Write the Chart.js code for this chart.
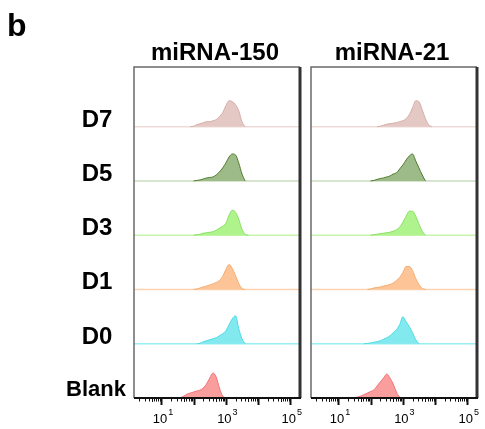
<!DOCTYPE html>
<html>
<head>
<meta charset="utf-8">
<script src="https://cdn.jsdelivr.net/npm/chart.js@4/dist/chart.umd.min.js"></script>
<style>
  html, body { margin: 0; padding: 0; background: #fff; }
  body { width: 485px; height: 429px; position: relative; overflow: hidden; }
  canvas { position: absolute; left: 0; top: 0; }
</style>
</head>
<body>
<canvas id="left" width="485" height="429"></canvas>
<canvas id="right" width="485" height="429"></canvas>
<script>
// Flow cytometry histograms, stacked per time point (bottom row first).
const rowNames = ['Blank', 'D0', 'D1', 'D3', 'D5', 'D7'];
const panelTitles = ['miRNA-150', 'miRNA-21'];

// log10 fluorescence bin centres shared by every histogram
const bins = [1.5, 1.6, 1.7, 1.8, 1.9, 2.0, 2.1, 2.2, 2.3, 2.4, 2.5, 2.6, 2.7,
              2.8, 2.9, 3.0, 3.1, 3.2, 3.3, 3.4, 3.5, 3.6, 3.7, 3.8, 3.9];

// x axis decades and the ones that carry a label
const xDecades = [0, 1, 2, 3, 4, 5];
const xLabelDecades = [1, 3, 5];

// miRNA-150 event counts per bin
const mir150_Blank = [0,0.5,2,4,5,6,7,8,10,14,20,25,21,10,2,0,0,0,0,0,0,0,0,0,0];
const mir150_D0    = [0,0,0,0,0,0,0,0.5,2,3,4,5,6,8,10,13,19,25,28,15,5,0,0,0,0];
const mir150_D1    = [0,0,0,0,0,0,0.5,1.5,2.5,3.5,4.5,5.5,7,9,13,20,25,21,14,6,1,0,0,0,0];
const mir150_D3    = [0,0,0,0,0,0,0.5,1,2,2.5,3,3.5,5,7,9,12,20,25,23,16,6,1,0,0,0];
const mir150_D5    = [0,0,0,0,0,0,0.5,1,2,3,3.5,4,6,9,13,18,24,27,26,18,7,0,0,0,0];
const mir150_D7    = [0,0,0,0,0,0.5,2,3,4,5,5,6,7,10,14,21,26,25,22,16,5,0,0,0,0];

// miRNA-21 event counts per bin
const mir21_Blank = [0.3,1,2,3.5,5,6.5,8,12,16,20,24,20,14,6,1,0,0,0,0,0,0,0,0,0,0];
const mir21_D0    = [0,0,0,0,0.3,0.8,1.5,2,3,4.5,6,8,11,14,19,27,22,17,11,4,0,0,0,0,0];
const mir21_D1    = [0,0,0,0,0,0.5,1.5,2,2.5,3.5,4,5,6.5,9,12,17,23,23,19,11,5,1,0,0,0];
const mir21_D3    = [0,0,0,0,0,0,0.5,1,1.5,2,2.5,3,4,5.5,8,13,19,24,24,19,11,4,0,0,0];
const mir21_D5    = [0,0,0,0,0,0,0.5,1.5,2.5,3,4,5,7,8,12,16,21,25,27,20,13,6,0,0,0];
const mir21_D7    = [0,0,0,0,0,0,0,0,0.5,1.5,2.5,3,3.5,4,5,6,8,12,19,26,25,17,8,2,0];

const mir150Rows = [mir150_Blank, mir150_D0, mir150_D1, mir150_D3, mir150_D5, mir150_D7];
const mir21Rows  = [mir21_Blank, mir21_D0, mir21_D1, mir21_D3, mir21_D5, mir21_D7];

// styling
const COUNTS_PER_ROW = 54.3;
const X_MIN_LOG = 0.15, X_MAX_LOG = 5.3;
const Y_MAX = 6.1;
const rowFill = ['#fa9d9d', '#82e9ef', '#fdc597', '#aff38c', '#9dbb88', '#e4c8c4'];
const rowLine = ['#f27575', '#49dbe3', '#f6ac6e', '#88e063', '#4f7b2e', '#d6aca6'];
const rowBase = ['#f5a0a0', '#98eef2', '#fbd3b3', '#c6f4ae', '#cadcc0', '#efdcd9'];
const FONT = '"Liberation Sans", Arial, Helvetica, sans-serif';

function buildDatasets(rows) {
  const ds = [];
  rows.forEach((counts, r) => {
    ds.push({
      data: [{ x: Math.pow(10, X_MIN_LOG), y: r }, { x: Math.pow(10, X_MAX_LOG), y: r }],
      borderColor: rowBase[r], borderWidth: 1.5, pointRadius: 0, fill: false, order: 2
    });
    const pts = [];
    counts.forEach((c, i) => {
      const near = c > 0 || (i > 0 && counts[i - 1] > 0) || (i < counts.length - 1 && counts[i + 1] > 0);
      if (near) pts.push({ x: Math.pow(10, bins[i]), y: r + c / COUNTS_PER_ROW });
    });
    ds.push({
      data: pts, borderColor: rowLine[r], backgroundColor: rowFill[r],
      borderWidth: 1, pointRadius: 0, fill: { value: r },
      cubicInterpolationMode: 'monotone', order: 1
    });
  });
  return ds;
}

const frame = {
  id: 'frame',
  afterDraw(chart, args, opts) {
    const ctx = chart.ctx, a = chart.chartArea;
    const xs = chart.scales.x, ys = chart.scales.y;
    ctx.save();
    // panel box
    ctx.strokeStyle = '#6a6a6a'; ctx.lineWidth = 1.5;
    ctx.beginPath();
    ctx.moveTo(a.left, a.bottom); ctx.lineTo(a.left, a.top); ctx.lineTo(a.right, a.top);
    ctx.stroke();
    ctx.strokeStyle = '#333'; ctx.lineWidth = 3;
    ctx.beginPath(); ctx.moveTo(a.right, a.top); ctx.lineTo(a.right, a.bottom); ctx.stroke();
    ctx.strokeStyle = '#111'; ctx.lineWidth = 2;
    ctx.beginPath(); ctx.moveTo(a.left, a.bottom); ctx.lineTo(a.right + 1, a.bottom); ctx.stroke();

    // log ticks
    ctx.strokeStyle = '#111';
    xDecades.forEach(d => {
      for (let m = 1; m <= 9; m++) {
        const v = m * Math.pow(10, d);
        const lv = Math.log10(v);
        if (lv < X_MIN_LOG || lv > X_MAX_LOG) continue;
        const px = Math.round(xs.getPixelForValue(v)) + 0.5;
        ctx.lineWidth = m === 1 ? 2 : 1;
        ctx.beginPath();
        ctx.moveTo(px, a.bottom);
        ctx.lineTo(px, a.bottom + (m === 1 ? 7 : (m === 5 ? 4 : 3.5)));
        ctx.stroke();
      }
    });

    // decade labels 10^n
    ctx.fillStyle = '#000';
    ctx.textBaseline = 'alphabetic';
    xLabelDecades.forEach(d => {
      const px = xs.getPixelForValue(Math.pow(10, d));
      ctx.font = '13px ' + FONT;
      const wb = ctx.measureText('10').width;
      ctx.font = '9px ' + FONT;
      const we = ctx.measureText(String(d)).width;
      const x0 = px - (wb + we) / 2 + 1;
      ctx.font = '13px ' + FONT;
      ctx.textAlign = 'left';
      ctx.fillText('10', x0, a.bottom + 25);
      ctx.font = '9px ' + FONT;
      ctx.fillText(String(d), x0 + wb + 1, a.bottom + 17);
    });

    // panel title
    ctx.font = 'bold 24px ' + FONT;
    ctx.textAlign = 'center';
    ctx.fillText(opts.title, (a.left + a.right) / 2 - 2, a.top - 7);

    // row names and panel tag
    if (opts.rowLabels) {
      rowNames.forEach((name, r) => {
        ctx.font = 'bold ' + (r === 0 ? 22 : 24) + 'px ' + FONT;
        ctx.fillText(name, r === 0 ? 96 : 97, ys.getPixelForValue(r) - (r === 0 ? 2 : 0));
      });
      ctx.font = 'bold 32px ' + FONT;
      ctx.textAlign = 'left';
      ctx.fillText('b', 7, 36);
    }
    ctx.restore();
  }
};

function makePanel(id, title, rows, padLeft, padRight, rowLabels) {
  return new Chart(document.getElementById(id), {
    type: 'line',
    data: { datasets: buildDatasets(rows) },
    plugins: [frame],
    options: {
      responsive: false, animation: false, devicePixelRatio: 1,
      layout: { padding: { left: padLeft, right: padRight, top: 67, bottom: 31 } },
      plugins: { legend: { display: false }, tooltip: { enabled: false }, frame: { title, rowLabels } },
      scales: {
        x: { type: 'logarithmic', display: false, min: Math.pow(10, X_MIN_LOG), max: Math.pow(10, X_MAX_LOG) },
        y: { type: 'linear', display: false, min: 0, max: Y_MAX }
      }
    }
  });
}

makePanel('left', panelTitles[0], mir150Rows, 134, 185, true);
makePanel('right', panelTitles[1], mir21Rows, 311, 8, false);
</script>
</body>
</html>
